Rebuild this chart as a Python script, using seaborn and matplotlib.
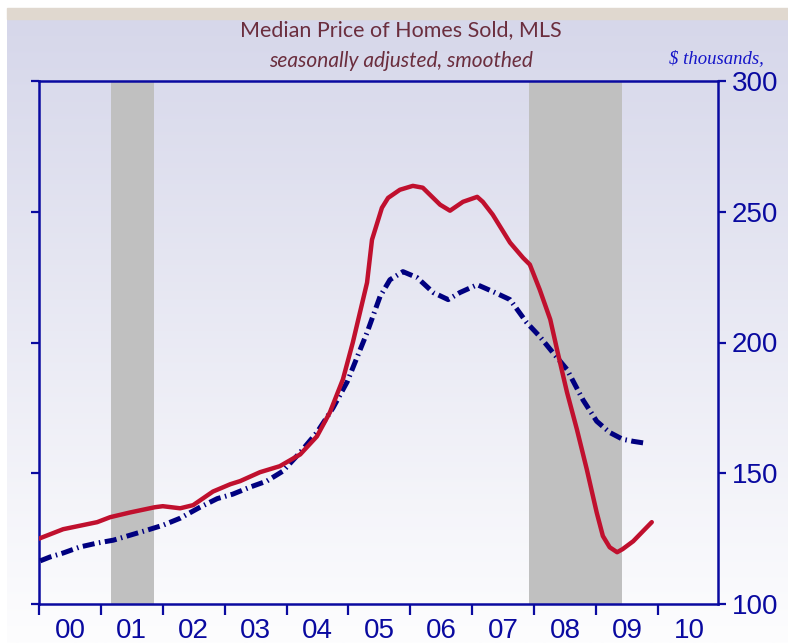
import numpy as np
import matplotlib
matplotlib.use("Agg")
import matplotlib.pyplot as plt
from matplotlib.patches import Rectangle
import seaborn as sns

# ─── Data ────────────────────────────────────────────────────────
red_years = [2000.00, 2000.39, 2000.94, 2001.15, 2001.47, 2001.87, 2002.00, 2002.28,
             2002.49, 2002.81, 2003.09, 2003.25, 2003.57, 2003.89, 2004.22, 2004.49,
             2004.70, 2004.91, 2005.07, 2005.30, 2005.38, 2005.54, 2005.64, 2005.83,
             2006.04, 2006.20, 2006.48, 2006.64, 2006.85, 2007.08, 2007.17, 2007.33,
             2007.61, 2007.82, 2007.93, 2008.09, 2008.26, 2008.38, 2008.53, 2008.69,
             2008.85, 2009.01, 2009.11, 2009.22, 2009.34, 2009.43, 2009.60, 2009.76,
             2009.90]
red_values = [125.0, 128.6, 131.3, 133.2, 135.0, 137.0, 137.4, 136.6,
              137.8, 143.0, 145.8, 147.0, 150.4, 152.7, 157.2, 164.1,
              173.3, 185.9, 200.0, 222.9, 239.3, 251.5, 255.3, 258.4,
              259.9, 259.2, 252.7, 250.4, 253.8, 255.7, 253.8, 248.9,
              238.2, 232.4, 229.8, 220.2, 208.8, 196.2, 181.0, 166.8,
              151.5, 135.0, 126.0, 121.7, 119.8, 121.0, 124.0, 127.9,
              131.3]

blue_years = [2000.02, 2000.18, 2000.39, 2000.66, 2000.94, 2001.20, 2001.47, 2001.74,
              2002.00, 2002.28, 2002.60, 2002.88, 2003.13, 2003.41, 2003.68, 2003.94,
              2004.22, 2004.49, 2004.75, 2004.98, 2005.30, 2005.51, 2005.67, 2005.88,
              2006.11, 2006.37, 2006.61, 2006.80, 2007.08, 2007.33, 2007.61, 2007.88,
              2008.09, 2008.30, 2008.53, 2008.79, 2009.01, 2009.22, 2009.43, 2009.60,
              2009.82]
blue_values = [116.5, 118.0, 119.5, 121.8, 123.3, 124.4, 126.3, 128.2,
               130.1, 132.8, 137.0, 140.3, 142.0, 144.7, 147.0, 150.8,
               158.0, 165.6, 175.0, 185.0, 203.8, 217.6, 224.0, 227.1,
               224.8, 219.1, 216.4, 219.1, 222.1, 219.5, 216.4, 207.6,
               202.3, 196.2, 189.7, 178.0, 169.9, 165.6, 163.0, 162.2,
               161.4]

recessions = [(2001.17, 2001.86), (2007.92, 2009.42)]
year_labels = ["00", "01", "02", "03", "04", "05", "06", "07", "08", "09", "10"]
y_ticks = [100, 150, 200, 250, 300]

# ─── Theme ───────────────────────────────────────────────────────
sns.set_style("white")
plt.rcParams["font.family"] = ["Liberation Sans", "DejaVu Sans"]

AXIS_BLUE = "#0A0AA0"
RED = "#C0102E"
NAVY = "#000080"
TITLE_COL = "#6B2E3E"

W, H = 788, 643
fig = plt.figure(figsize=(W / 100, H / 100), dpi=100)
fig.patch.set_facecolor("white")

# gradient background below the beige strip
bg = fig.add_axes([7 / W, 0, 1 - 7 / W, (H - 19) / H])
top = np.array([0xD6, 0xD7, 0xEA]) / 255
bot = np.array([0xFD, 0xFD, 0xFE]) / 255
t = np.linspace(0, 1, 256)[:, None]
grad = (top[None, :] * (1 - t) + bot[None, :] * t)[:, None, :]
bg.imshow(grad, aspect="auto", extent=[0, 1, 0, 1])
bg.set_axis_off()
fig.patches.append(Rectangle((7 / W, 1 - 19 / H), 1 - 7 / W, 11 / H,
                             transform=fig.transFigure, color="#E0D8CF", zorder=0))

ax = fig.add_axes([39 / W, (H - 604) / H, (718 - 39) / W, (604 - 81) / H])
ax.set_facecolor("none")

for start, end in recessions:
    ax.axvspan(start, end, color="#C0C0C0", zorder=1, lw=0)

sns.lineplot(x=blue_years, y=blue_values, ax=ax, color=NAVY, linewidth=3.6,
             linestyle=(0, (2.4, 0.9, 0.3, 0.9)), zorder=3)
sns.lineplot(x=red_years, y=red_values, ax=ax, color=RED, linewidth=3.2, zorder=4)

ax.set_xlim(2000, 2010.97)
ax.set_ylim(100, 300)
ax.set_xlabel("")
ax.set_ylabel("")

ax.set_xticks(np.arange(2000, 2011, 1))
ax.set_xticklabels([])
ax.set_xticks(np.arange(2000.5, 2011, 1), minor=True)
ax.set_xticklabels(year_labels, minor=True)
ax.tick_params(axis="x", which="major", direction="out", length=8, width=1.6,
               color=AXIS_BLUE, bottom=True)
ax.tick_params(axis="x", which="minor", length=0, pad=10, labelsize=20,
               labelcolor=AXIS_BLUE)

ax.set_yticks(y_ticks)
ax.yaxis.set_ticks_position("both")
ax.tick_params(axis="y", direction="out", length=6, width=1.6, color=AXIS_BLUE,
               left=True, right=True, labelleft=False, labelright=True,
               labelsize=20, labelcolor=AXIS_BLUE, pad=4)

for side in ["left", "right", "top", "bottom"]:
    ax.spines[side].set_visible(True)
    ax.spines[side].set_color(AXIS_BLUE)
    ax.spines[side].set_linewidth(1.8)

# ─── Titles ──────────────────────────────────────────────────────
fig.text(401 / W, 1 - 30 / H, "Median Price of Homes Sold, MLS", ha="center",
         va="center", fontsize=15.5, color=TITLE_COL, family=["Lato", "DejaVu Sans"])
fig.text(401 / W, 1 - 61 / H, "seasonally adjusted, smoothed", ha="center",
         va="center", fontsize=15, color=TITLE_COL, style="italic",
         family=["Lato", "DejaVu Sans"])
fig.text(669 / W, 1 - 59 / H, "$ thousands,", ha="left", va="center",
         fontsize=13.5, color="#1515C8", style="italic",
         family=["Liberation Serif", "DejaVu Serif"])

fig.savefig("out.png", dpi=100)
